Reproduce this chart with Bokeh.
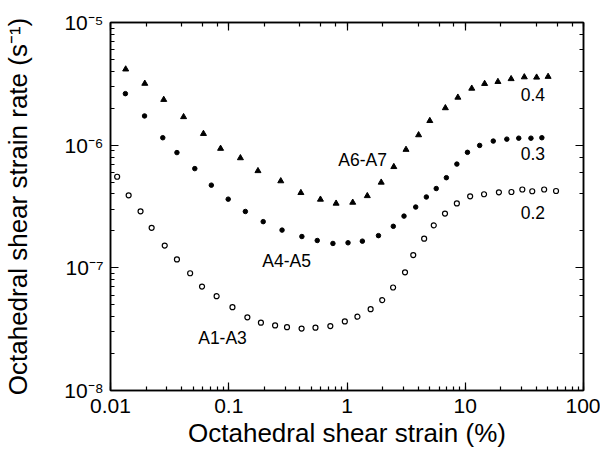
from bokeh.plotting import figure
from bokeh.models import LogAxis, CustomJSTickFormatter, Label
from bokeh.embed import file_html
from bokeh.resources import INLINE

# ---- data ----
a67_x = [0.01344, 0.0195, 0.0282, 0.0415, 0.0611, 0.0853, 0.1255, 0.1766, 0.2754, 0.4074,
         0.5962, 0.8088, 1.118, 1.485, 1.947, 2.488, 3.155, 4.032, 5.015, 6.790,
         8.660, 11.35, 14.58, 18.89, 24.43, 31.58, 40.13, 50.19]
a67_y = [4.16e-6, 3.18e-6, 2.35e-6, 1.70e-6, 1.24e-6, 9.38e-7, 7.86e-7, 6.17e-7, 5.10e-7, 4.09e-7,
         3.61e-7, 3.35e-7, 3.41e-7, 3.86e-7, 4.97e-7, 6.66e-7, 9.20e-7, 1.21e-6, 1.58e-6, 2.01e-6,
         2.45e-6, 2.90e-6, 3.17e-6, 3.29e-6, 3.47e-6, 3.59e-6, 3.57e-6, 3.62e-6]

a45_x = [0.01336, 0.0194, 0.02767, 0.03646, 0.05162, 0.07125, 0.09895, 0.1382, 0.1956, 0.2823,
         0.4153, 0.5603, 0.7602, 1.020, 1.349, 1.845, 2.464, 3.035, 3.811, 4.688,
         5.684, 6.923, 8.494, 10.44, 13.24, 17.26, 22.47, 28.34, 35.94, 44.44]
a45_y = [2.63e-6, 1.73e-6, 1.15e-6, 8.70e-7, 6.44e-7, 4.72e-7, 3.63e-7, 2.88e-7, 2.38e-7, 2.03e-7,
         1.80e-7, 1.67e-7, 1.58e-7, 1.60e-7, 1.65e-7, 1.83e-7, 2.18e-7, 2.64e-7, 3.13e-7, 3.78e-7,
         4.43e-7, 5.43e-7, 7.01e-7, 8.74e-7, 9.95e-7, 1.08e-6, 1.12e-6, 1.14e-6, 1.14e-6, 1.15e-6]

a13_x = [0.01138, 0.01424, 0.01795, 0.02228, 0.02875, 0.03646, 0.04714, 0.05943, 0.07896, 0.1075,
         0.1437, 0.1871, 0.2466, 0.3109, 0.4130, 0.5412, 0.7229, 0.9586, 1.225, 1.584,
         1.985, 2.454, 3.095, 3.633, 4.492, 5.418, 6.740, 8.494, 11.00, 14.42,
         19.26, 24.57, 30.39, 36.86, 46.47, 58.58]
a13_y = [5.53e-7, 3.90e-7, 2.89e-7, 2.12e-7, 1.52e-7, 1.17e-7, 9.03e-8, 7.04e-8, 5.87e-8, 4.78e-8,
         3.95e-8, 3.57e-8, 3.39e-8, 3.28e-8, 3.20e-8, 3.25e-8, 3.35e-8, 3.66e-8, 4.00e-8, 4.60e-8,
         5.46e-8, 6.91e-8, 9.20e-8, 1.27e-7, 1.73e-7, 2.22e-7, 2.77e-7, 3.35e-7, 3.83e-7, 3.98e-7,
         4.13e-7, 4.15e-7, 4.35e-7, 4.21e-7, 4.35e-7, 4.23e-7]

series_labels = ["A6-A7", "A4-A5", "A1-A3"]
series_label_x = [1.357, 0.309, 0.0886]
series_label_y = [7.61e-7, 1.13e-7, 2.70e-8]
ratio_labels = ["0.4", "0.3", "0.2"]
ratio_label_x = [37.35, 37.35, 37.35]
ratio_label_y = [2.58e-6, 8.53e-7, 2.85e-7]

x_ticks = [0.01, 0.1, 1, 10, 100]
x_tick_labels = ["0.01", "0.1", "1", "10", "100"]
y_ticks = [1e-8, 1e-7, 1e-6, 1e-5]
y_tick_labels = ["10\u207b\u2078", "10\u207b\u2077", "10\u207b\u2076", "10\u207b\u2075"]

FONT = "Liberation Sans"

fmt_code = """
let best = 0, bd = Infinity;
for (let i = 0; i < tvals.length; i++) {
  const d = Math.abs(Math.log10(tick) - Math.log10(tvals[i]));
  if (d < bd) { bd = d; best = i; }
}
return bd < 0.01 ? tlabels[best] : "";
"""

p = figure(width=600, height=450, x_axis_type="log", y_axis_type="log",
           x_range=(0.01, 100), y_range=(1e-8, 1e-5),
           output_backend="svg", toolbar_location=None,
           min_border_left=106, min_border_right=17, min_border_top=22, min_border_bottom=60)
p.grid.visible = False
p.outline_line_color = "black"
p.outline_line_width = 1.5
p.background_fill_color = "white"
p.border_fill_color = "white"

for ax in (p.xaxis[0], p.yaxis[0]):
    ax.axis_line_width = 1.5
    ax.major_tick_in = 8
    ax.major_tick_out = 0
    ax.minor_tick_in = 4
    ax.minor_tick_out = 0
    ax.major_tick_line_width = 1.2
    ax.minor_tick_line_width = 1.2
    ax.major_label_text_font = FONT
    ax.major_label_text_font_size = "21px"
    ax.major_label_text_color = "black"
    ax.axis_label_text_font = FONT
    ax.axis_label_text_font_size = "26px"
    ax.axis_label_text_font_style = "normal"
    ax.axis_label_text_color = "black"

p.xaxis[0].formatter = CustomJSTickFormatter(args=dict(tvals=x_ticks, tlabels=x_tick_labels), code=fmt_code)
p.yaxis[0].formatter = CustomJSTickFormatter(args=dict(tvals=y_ticks, tlabels=y_tick_labels), code=fmt_code)
p.xaxis[0].axis_label = "Octahedral shear strain (%)"
p.yaxis[0].axis_label = "Octahedral shear strain rate (s\u207b\u00b9)"
p.xaxis[0].major_label_standoff = 8
p.xaxis[0].axis_label_standoff = 2
p.yaxis[0].major_label_standoff = 7
p.yaxis[0].axis_label_standoff = 28

for loc in ("right", "above"):
    ax = LogAxis(axis_line_width=1.5, major_tick_in=8, major_tick_out=0,
                 minor_tick_in=4, minor_tick_out=0,
                 major_tick_line_width=1.2, minor_tick_line_width=1.2,
                 major_label_standoff=0, major_label_text_font_size="4px",
                 formatter=CustomJSTickFormatter(code="return '';"))
    p.add_layout(ax, loc)

p.scatter(a67_x, a67_y, marker="triangle", size=6, color="black")
p.scatter(a45_x, a45_y, marker="circle", size=4.5, color="black")
p.scatter(a13_x, a13_y, marker="circle", size=5, line_color="black", fill_color="white", line_width=1.2)

for t, x, y in zip(series_labels + ratio_labels, series_label_x + ratio_label_x, series_label_y + ratio_label_y):
    p.add_layout(Label(x=x, y=y, text=t, text_font=FONT, text_font_size="17.5px",
                       text_align="center", text_baseline="middle", text_color="black"))

open("out.html", "w").write(file_html(p, INLINE))
